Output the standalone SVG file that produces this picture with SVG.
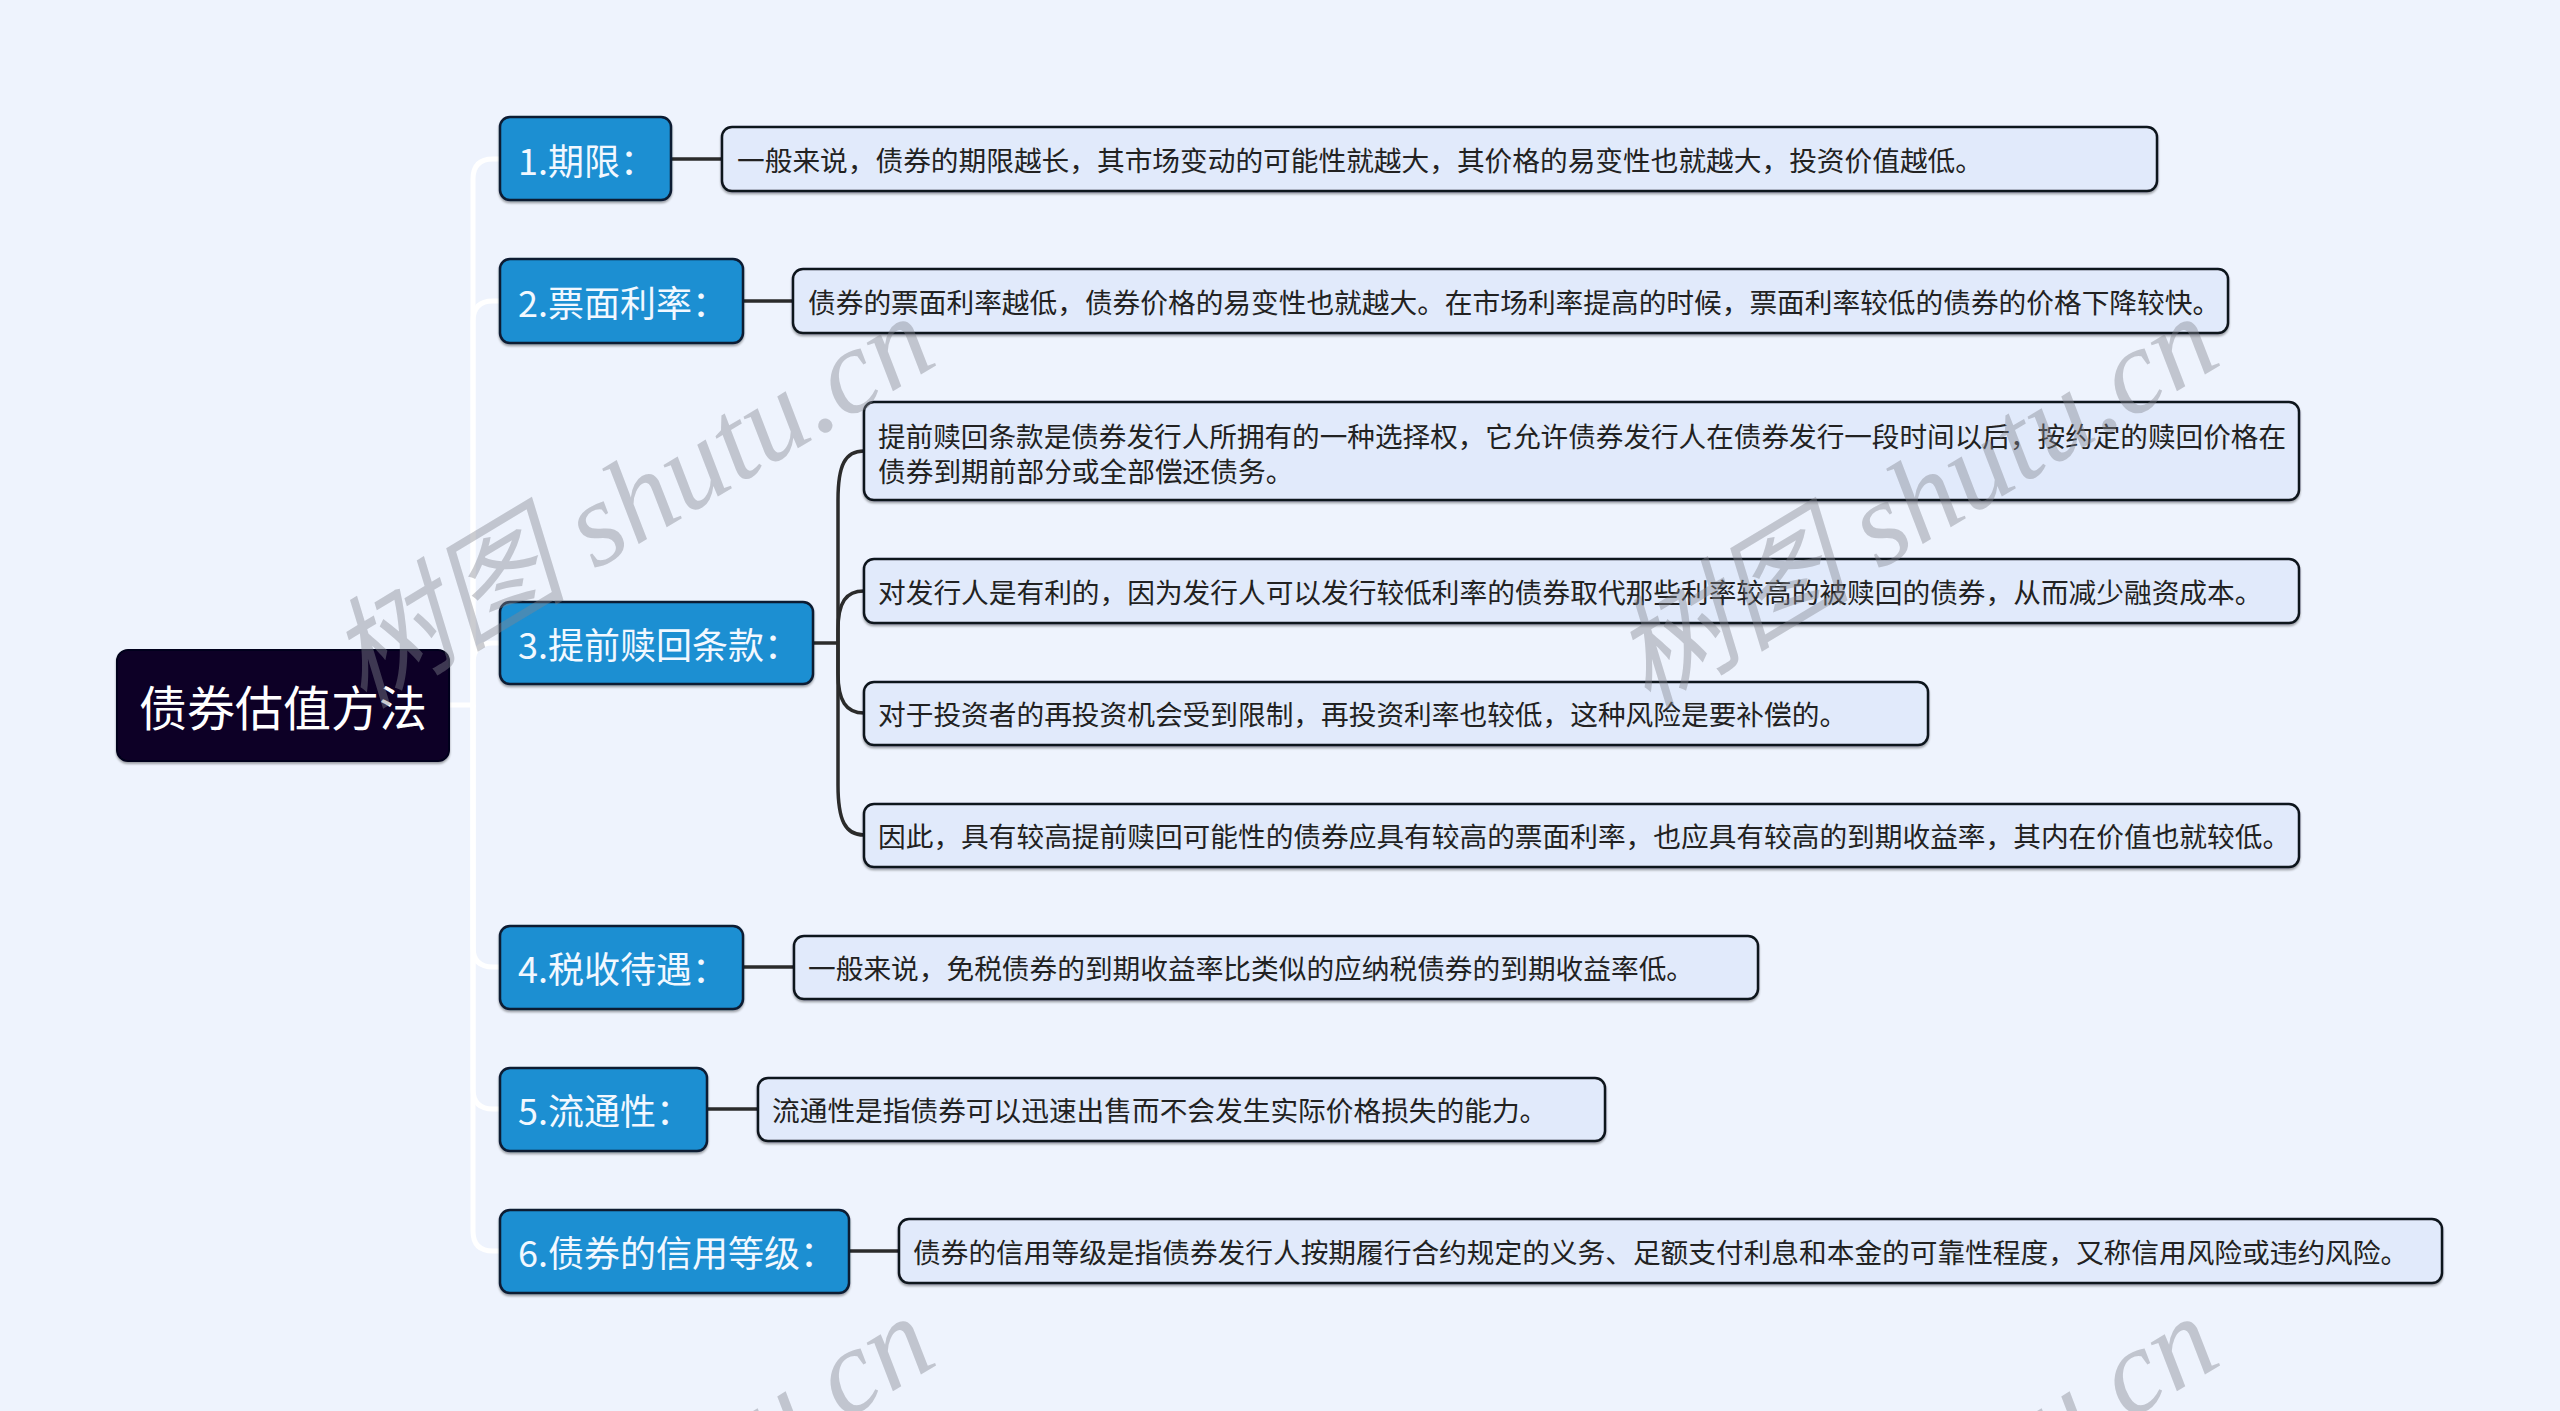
<svg xmlns="http://www.w3.org/2000/svg" width="2560" height="1411" viewBox="0 0 2560 1411">
<defs>
<filter id="sh" x="-5%" y="-20%" width="110%" height="150%">
<feDropShadow dx="0" dy="2" stdDeviation="1.2" flood-color="#000" flood-opacity="0.35"/>
</filter>
<style>
.root rect{fill:#0b0628;stroke:#05031a;stroke-width:2}
.root text{fill:#ffffff;font-family:"Noto Sans CJK SC","Noto Sans",sans-serif;font-size:48px;text-anchor:middle;dominant-baseline:central}
.topic rect{fill:#1a8fd2;stroke:#0c1a33;stroke-width:2.5}
.topic text{fill:#f2f8ff;font-family:"Noto Sans CJK SC","Noto Sans",sans-serif;font-size:36px;dominant-baseline:central}
.leaf rect{fill:#e1eafb;stroke:#10131c;stroke-width:2.5}
.leaf text{fill:#222222;font-family:"Noto Sans CJK SC","Noto Sans",sans-serif;font-size:27.7px;dominant-baseline:central}
.trunk{fill:none;stroke:#ffffff;stroke-width:5;stroke-linecap:round}
.link{fill:none;stroke:#2b2b2b;stroke-width:3.5}
.wm{fill:#82868f;fill-opacity:0.42;font-family:"Liberation Serif","Noto Sans CJK SC",serif;font-style:italic;font-size:120px;text-anchor:middle}
</style>
</defs>
<rect x="0" y="0" width="2560" height="1411" fill="#eef3fd"/>

<g id="connectors">
<path class="trunk" d="M449,705 H473 V179 Q473,159 493,159 H500"/>
<path class="trunk" d="M473,705 V321 Q473,301 493,301 H500"/>
<path class="trunk" d="M473,705 V663 Q473,643 493,643 H500"/>
<path class="trunk" d="M473,705 V947 Q473,967 493,967 H500"/>
<path class="trunk" d="M473,705 V1089 Q473,1109 493,1109 H500"/>
<path class="trunk" d="M473,705 V1231 Q473,1251 493,1251 H500"/>
<path class="link" d="M671,159 H722"/>
<path class="link" d="M743,301 H793"/>
<path class="link" d="M813,643 H838"/>
<path class="link" d="M838,643 V500 C838,465 845,451 864,451"/>
<path class="link" d="M838,643 V630 C838,602 846,591 864,591"/>
<path class="link" d="M838,643 V673 C838,701 846,713 864,713"/>
<path class="link" d="M838,643 V785 C838,820 845,835 864,835"/>
<path class="link" d="M743,967 H794"/>
<path class="link" d="M707,1109 H758"/>
<path class="link" d="M849,1251 H899"/>
</g>

<g id="root" class="root">
<rect x="117" y="650" width="332" height="111" rx="11" filter="url(#sh)"/>
<text x="283" y="705">债券估值方法</text>
</g>

<g id="n1" class="topic"><rect x="500" y="117" width="171" height="83" rx="10" filter="url(#sh)"/><text x="518" y="158.5">1.期限：</text></g>
<g id="n2" class="topic"><rect x="500" y="259" width="243" height="84" rx="10" filter="url(#sh)"/><text x="518" y="301">2.票面利率：</text></g>
<g id="n3" class="topic"><rect x="500" y="602" width="313" height="82" rx="10" filter="url(#sh)"/><text x="518" y="643">3.提前赎回条款：</text></g>
<g id="n4" class="topic"><rect x="500" y="926" width="243" height="83" rx="10" filter="url(#sh)"/><text x="518" y="967">4.税收待遇：</text></g>
<g id="n5" class="topic"><rect x="500" y="1068" width="207" height="83" rx="10" filter="url(#sh)"/><text x="518" y="1109">5.流通性：</text></g>
<g id="n6" class="topic"><rect x="500" y="1210" width="349" height="83" rx="10" filter="url(#sh)"/><text x="518" y="1251">6.债券的信用等级：</text></g>

<g id="l1" class="leaf"><rect x="722" y="127" width="1435" height="64" rx="10" filter="url(#sh)"/><text x="737" y="159">一般来说，债券的期限越长，其市场变动的可能性就越大，其价格的易变性也就越大，投资价值越低。</text></g>
<g id="l2" class="leaf"><rect x="793" y="269" width="1435" height="64" rx="10" filter="url(#sh)"/><text x="808" y="301">债券的票面利率越低，债券价格的易变性也就越大。在市场利率提高的时候，票面利率较低的债券的价格下降较快。</text></g>
<g id="l3a" class="leaf"><rect x="864" y="402" width="1435" height="98" rx="10" filter="url(#sh)"/><text x="878" y="435" textLength="1408" lengthAdjust="spacingAndGlyphs">提前赎回条款是债券发行人所拥有的一种选择权，它允许债券发行人在债券发行一段时间以后，按约定的赎回价格在</text><text x="878" y="470">债券到期前部分或全部偿还债务。</text></g>
<g id="l3b" class="leaf"><rect x="864" y="559" width="1435" height="64" rx="10" filter="url(#sh)"/><text x="878" y="591">对发行人是有利的，因为发行人可以发行较低利率的债券取代那些利率较高的被赎回的债券，从而减少融资成本。</text></g>
<g id="l3c" class="leaf"><rect x="864" y="682" width="1064" height="63" rx="10" filter="url(#sh)"/><text x="878" y="713">对于投资者的再投资机会受到限制，再投资利率也较低，这种风险是要补偿的。</text></g>
<g id="l3d" class="leaf"><rect x="864" y="804" width="1435" height="63" rx="10" filter="url(#sh)"/><text x="878" y="835">因此，具有较高提前赎回可能性的债券应具有较高的票面利率，也应具有较高的到期收益率，其内在价值也就较低。</text></g>
<g id="l4" class="leaf"><rect x="794" y="936" width="964" height="63" rx="10" filter="url(#sh)"/><text x="808" y="967">一般来说，免税债券的到期收益率比类似的应纳税债券的到期收益率低。</text></g>
<g id="l5" class="leaf"><rect x="758" y="1078" width="847" height="63" rx="10" filter="url(#sh)"/><text x="772" y="1109">流通性是指债券可以迅速出售而不会发生实际价格损失的能力。</text></g>
<g id="l6" class="leaf"><rect x="899" y="1219" width="1543" height="64" rx="10" filter="url(#sh)"/><text x="913" y="1251">债券的信用等级是指债券发行人按期履行合约规定的义务、足额支付利息和本金的可靠性程度，又称信用风险或违约风险。</text></g>

<g id="watermark">
<text class="wm" transform="translate(652,536) rotate(-31)">树图 shutu.cn</text>
<text class="wm" transform="translate(1936,536) rotate(-31)">树图 shutu.cn</text>
<text class="wm" transform="translate(652,1536) rotate(-31)">树图 shutu.cn</text>
<text class="wm" transform="translate(1936,1536) rotate(-31)">树图 shutu.cn</text>
</g>
</svg>
